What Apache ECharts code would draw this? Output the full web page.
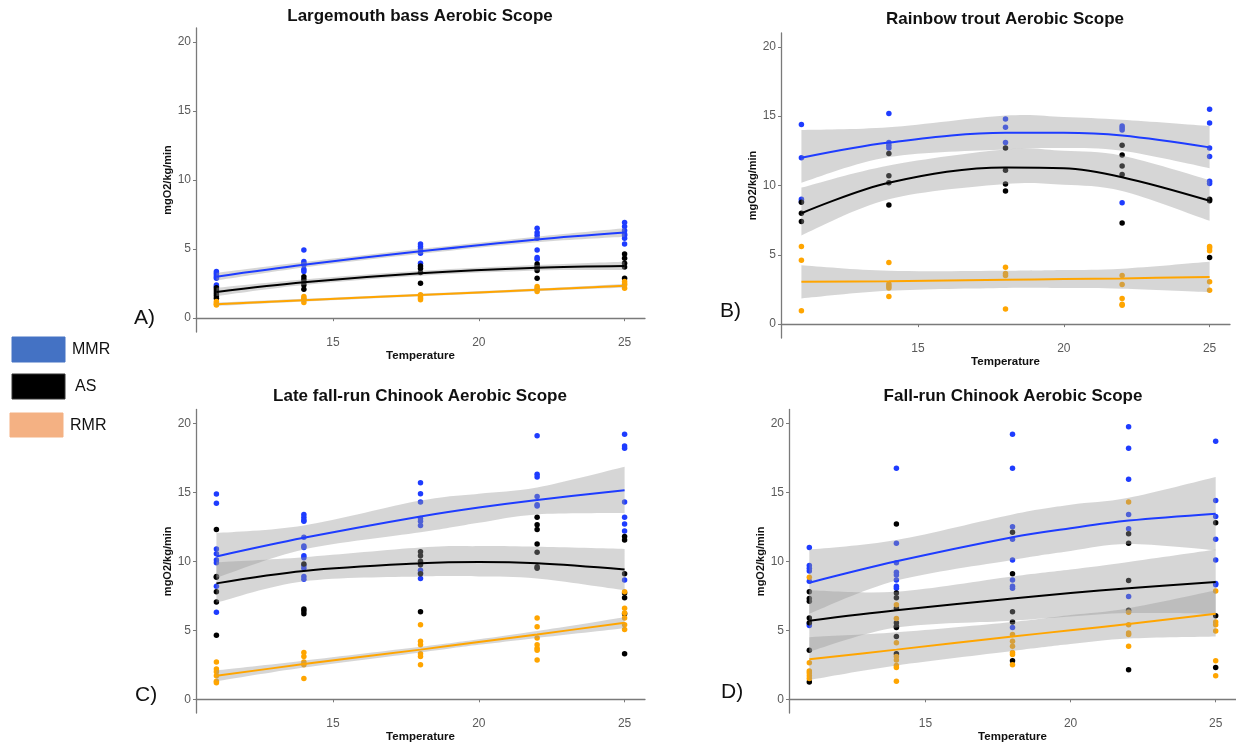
<!DOCTYPE html>
<html>
<head>
<meta charset="utf-8">
<script src="https://cdn.jsdelivr.net/npm/echarts@6/dist/echarts.min.js"></script>
<style>html,body{margin:0;padding:0;background:#fff}#c{width:1236px;height:744px}</style>
</head>
<body>
<div id="c"></div>
<script>
// ---------- DATA ----------
const temps = [11, 14, 18, 22, 25];
const xTicks = [15, 20, 25];
const yTicks = [0, 5, 10, 15, 20];
const groupNames = ['MMR', 'AS', 'RMR'];
const titles = ['Largemouth bass Aerobic Scope', 'Rainbow trout Aerobic Scope',
                'Late fall-run Chinook Aerobic Scope', 'Fall-run Chinook Aerobic Scope'];
const panelLabels = ['A)', 'B)', 'C)', 'D)'];

// Panel A – Largemouth bass (points per temperature)
const A_MMR = [[3.37,3.25,3.13,3.0,2.89,2.41,2.29],[4.94,4.1,3.95,3.86,3.54,3.37],[5.37,5.18,5.0,4.7,3.98],[6.5,6.2,6.0,5.78,4.94,4.4,4.27],[6.92,6.63,6.34,6.1,6.0,5.78,5.37]];
const A_AS  = [[2.2,2.05,1.9,1.75,1.6,1.45],[3.0,2.8,2.6,2.4,2.1],[3.78,3.6,3.3,2.53],[3.93,3.75,3.6,3.45,2.89],[4.65,4.34,3.98,3.7,2.89]];
const A_RMR = [[1.2,1.1,1.0,0.95],[1.57,1.45,1.33,1.13],[1.69,1.55,1.45,1.33],[2.29,2.15,2.05,1.93],[2.65,2.5,2.41,2.17]];
const A_fitX = [11, 14, 18, 22, 25];
const A_MMR_fit = [3.0, 3.86, 4.84, 5.7, 6.2];
const A_MMR_lo  = [2.72, 3.66, 4.66, 5.5, 5.9];
const A_MMR_hi  = [3.28, 4.06, 5.02, 5.9, 6.5];
const A_AS_fit  = [1.9, 2.6, 3.25, 3.65, 3.78];
const A_AS_lo   = [1.6, 2.4, 3.07, 3.45, 3.48];
const A_AS_hi   = [2.2, 2.8, 3.43, 3.85, 4.08];
const A_RMR_fit = [1.0, 1.3, 1.68, 2.05, 2.35];
const A_RMR_lo  = [0.88, 1.2, 1.59, 1.95, 2.22];
const A_RMR_hi  = [1.12, 1.4, 1.77, 2.15, 2.48];

// Panel B – Rainbow trout
const B_MMR = [[14.4,12.0,9.0,8.85],[15.2,13.1,12.9,12.7],[14.8,14.2,13.1],[14.3,14.15,14.0,8.75],[15.5,14.5,12.7,12.1,10.3,10.15]];
const B_AS  = [[8.8,8.0,7.4],[12.3,10.7,10.2,8.6],[12.7,11.1,10.1,9.6],[12.9,12.2,11.4,10.8,7.3],[9.0,8.9,4.8]];
const B_RMR = [[5.6,4.6,0.96],[4.45,2.9,2.75,2.6,2.0],[4.1,3.65,3.5,1.1],[3.5,2.86,1.85,1.44,1.37],[5.6,5.5,5.3,3.05,2.45]];
const B_fitX = [11, 14, 18, 20, 22, 25];
const B_MMR_fit = [12.0, 13.1, 13.8, 13.8, 13.6, 12.75];
const B_MMR_lo  = [10.2, 12.05, 12.6, 12.7, 12.5, 11.25];
const B_MMR_hi  = [14.0, 14.2, 15.05, 14.95, 14.75, 14.3];
const B_AS_fit  = [8.0, 10.2, 11.3, 11.25, 10.6, 8.9];
const B_AS_lo   = [6.4, 9.0, 10.1, 10.05, 9.6, 7.45];
const B_AS_hi   = [9.85, 11.45, 12.6, 12.5, 12.15, 10.4];
const B_RMR_fit = [3.05, 3.1, 3.2, 3.25, 3.3, 3.4];
const B_RMR_lo  = [1.85, 2.4, 2.6, 2.6, 2.55, 2.3];
const B_RMR_hi  = [4.25, 3.85, 3.85, 3.9, 4.0, 4.5];

// Panel C – Late fall-run Chinook
const C_MMR = [[14.87,14.2,10.9,10.55,10.1,9.9,8.2,6.3],[13.4,13.2,13.0,12.9,11.75,11.1,11.0,10.4,10.25,9.7,9.5,8.9,8.7],[15.7,14.9,14.3,13.1,12.9,12.6,9.35,9.15,8.75],[19.1,16.3,16.1,14.7,14.1,14.0],[19.2,18.35,18.2,14.3,13.2,12.7,12.2,8.65]];
const C_AS  = [[12.3,8.9,8.85,7.8,7.05,4.65],[9.8,6.55,6.4,6.2],[10.7,10.4,10.0,9.75,9.1,6.35],[13.2,12.65,12.3,11.25,10.65,9.6,9.5],[11.8,11.55,9.1,7.7,7.35,6.2,3.3]];
const C_RMR = [[2.7,2.2,2.0,1.7,1.3,1.2],[3.4,3.1,2.7,2.5,1.5],[5.4,4.2,3.95,3.3,3.1,2.5],[5.9,5.25,4.45,3.95,3.7,3.55,2.85],[7.8,6.6,6.25,5.9,5.4,5.05]];
const C_fitX = [11, 14, 18, 20, 22, 25];
const C_MMR_fit = [10.35, 11.7, 13.25, 13.9, 14.45, 15.15];
const C_MMR_lo  = [8.8, 10.85, 12.1, 12.8, 13.4, 13.5];
const C_MMR_hi  = [12.05, 12.6, 14.4, 14.9, 15.35, 16.85];
const C_AS_fit  = [8.4, 9.3, 9.85, 9.95, 9.85, 9.4];
const C_AS_lo   = [7.0, 8.55, 8.9, 8.9, 8.75, 7.9];
const C_AS_hi   = [9.93, 10.3, 11.0, 11.1, 11.05, 10.9];
const C_RMR_fit = [1.7, 2.55, 3.6, 4.15, 4.7, 5.55];
const C_RMR_lo  = [1.3, 2.3, 3.4, 3.95, 4.45, 5.15];
const C_RMR_hi  = [2.1, 2.8, 3.8, 4.35, 4.95, 5.95];

// Panel D – Fall-run Chinook
const D_MMR = [[11.0,9.7,9.5,9.3,8.55,5.5,5.35],[16.75,11.3,9.9,9.2,9.0,8.65,8.2,8.05],[19.2,16.75,12.5,11.6,10.1,8.65,8.2,8.05,5.2],[19.75,18.2,15.95,13.4,12.35,7.45],[18.7,14.4,13.25,11.6,10.1,8.4,8.3]];
const D_AS  = [[7.8,7.3,7.1,5.9,5.55,3.55,1.25],[12.7,7.7,7.35,6.6,5.55,5.3,5.2,4.55,3.3],[12.1,9.1,6.35,5.6,2.8],[12.0,11.3,8.6,6.45,2.15],[12.8,6.05,2.3]];
const D_RMR = [[8.85,2.65,2.05,1.9,1.7,1.5],[6.85,5.85,4.1,3.1,2.85,2.45,2.3,1.3],[4.7,4.2,3.85,3.4,3.25,2.5],[14.3,6.3,5.4,4.8,4.7,3.85],[7.85,5.6,5.4,4.95,2.8,1.7]];
const D_fitX = [11, 14, 18, 20, 22, 25];
const D_MMR_fit = [8.45, 10.0, 11.75, 12.4, 12.95, 13.45];
const D_MMR_lo  = [6.2, 8.6, 10.1, 10.75, 11.25, 10.8];
const D_MMR_hi  = [10.85, 11.55, 13.4, 14.1, 14.6, 16.1];
const D_AS_fit  = [5.7, 6.45, 7.3, 7.7, 8.05, 8.5];
const D_AS_lo   = [3.45, 5.2, 5.7, 6.0, 6.25, 6.2];
const D_AS_hi   = [7.9, 7.8, 8.9, 9.4, 9.95, 10.85];
const D_RMR_fit = [2.9, 3.6, 4.55, 5.0, 5.45, 6.2];
const D_RMR_lo  = [1.4, 2.45, 3.5, 4.0, 4.4, 4.55];
const D_RMR_hi  = [4.5, 4.85, 5.6, 6.1, 6.6, 7.9];

// ---------- STYLE ----------
const FONT = 'Liberation Sans, Arial, sans-serif';
const colors = ['#1e3cff', '#000000', '#ffa500'];
const legendColors = ['#4472C4', '#000000', '#F4B183'];
const bandFill = 'rgba(153,153,153,0.4)';
const axisGrey = '#7a7a7a';

const grids = [
  {left: 196, top: 28, width: 449, height: 304},
  {left: 781, top: 33, width: 449, height: 305},
  {left: 196, top: 409.5, width: 449, height: 304},
  {left: 789, top: 409.5, width: 449, height: 304}
];

const panels = [
  {pts: [A_MMR, A_AS, A_RMR], fitX: A_fitX, fit: [A_MMR_fit, A_AS_fit, A_RMR_fit], lo: [A_MMR_lo, A_AS_lo, A_RMR_lo], hi: [A_MMR_hi, A_AS_hi, A_RMR_hi]},
  {pts: [B_MMR, B_AS, B_RMR], fitX: B_fitX, fit: [B_MMR_fit, B_AS_fit, B_RMR_fit], lo: [B_MMR_lo, B_AS_lo, B_RMR_lo], hi: [B_MMR_hi, B_AS_hi, B_RMR_hi]},
  {pts: [C_MMR, C_AS, C_RMR], fitX: C_fitX, fit: [C_MMR_fit, C_AS_fit, C_RMR_fit], lo: [C_MMR_lo, C_AS_lo, C_RMR_lo], hi: [C_MMR_hi, C_AS_hi, C_RMR_hi]},
  {pts: [D_MMR, D_AS, D_RMR], fitX: D_fitX, fit: [D_MMR_fit, D_AS_fit, D_RMR_fit], lo: [D_MMR_lo, D_AS_lo, D_RMR_lo], hi: [D_MMR_hi, D_AS_hi, D_RMR_hi]}
];

function toPairs(groups) {
  const out = [];
  groups.forEach((ys, i) => ys.forEach(y => out.push([temps[i], y])));
  return out;
}

// Catmull-Rom spline through pixel points -> SVG path commands
function splinePath(p, start) {
  let d = start ? 'M' + p[0][0] + ' ' + p[0][1] : 'L' + p[0][0] + ' ' + p[0][1];
  for (let i = 0; i < p.length - 1; i++) {
    const p0 = p[Math.max(i - 1, 0)], p1 = p[i], p2 = p[i + 1], p3 = p[Math.min(i + 2, p.length - 1)];
    const c1 = [p1[0] + (p2[0] - p0[0]) / 6, p1[1] + (p2[1] - p0[1]) / 6];
    const c2 = [p2[0] - (p3[0] - p1[0]) / 6, p2[1] - (p3[1] - p1[1]) / 6];
    d += ' C' + c1[0] + ' ' + c1[1] + ' ' + c2[0] + ' ' + c2[1] + ' ' + p2[0] + ' ' + p2[1];
  }
  return d;
}

const xAxes = [], yAxes = [], series = [];
panels.forEach((pn, gi) => {
  xAxes.push({
    type: 'value', gridIndex: gi, min: 10.3, max: 25.7,
    axisLine: {show: true, lineStyle: {color: axisGrey, width: 1.3}},
    axisTick: {show: true, customValues: xTicks, length: 3, lineStyle: {color: axisGrey, width: 1}},
    axisLabel: {customValues: xTicks, color: '#5a5a5a', fontSize: 12, margin: 5, fontFamily: FONT},
    splitLine: {show: false},
    name: 'Temperature', nameLocation: 'middle', nameGap: 17,
    nameTextStyle: {fontWeight: 'bold', fontSize: 11.5, color: '#111', fontFamily: FONT}
  });
  yAxes.push({
    type: 'value', gridIndex: gi, min: -1, max: 21,
    axisLine: {show: true, lineStyle: {color: axisGrey, width: 1.3}},
    axisTick: {show: true, customValues: yTicks, length: 3, lineStyle: {color: axisGrey, width: 1}},
    axisLabel: {customValues: yTicks, color: '#5a5a5a', fontSize: 12, margin: 5, fontFamily: FONT},
    splitLine: {show: false},
    name: 'mgO2/kg/min', nameLocation: 'middle', nameGap: 19, nameRotate: 90,
    nameTextStyle: {fontWeight: 'bold', fontSize: 11, color: '#111', fontFamily: FONT}
  });
  // points
  pn.pts.forEach((g, k) => {
    series.push({
      type: 'scatter', name: groupNames[k], xAxisIndex: gi, yAxisIndex: gi,
      data: toPairs(g), symbolSize: 5.5, z: 2, silent: true,
      itemStyle: {color: colors[k], opacity: 1}
    });
  });
  // confidence bands
  pn.lo.forEach((lo, k) => {
    const hi = pn.hi[k], xs = pn.fitX;
    series.push({
      type: 'custom', xAxisIndex: gi, yAxisIndex: gi, z: 3, silent: true,
      data: [[xs[0], lo[0]]],
      renderItem: function (params, api) {
        const up = xs.map((x, i) => api.coord([x, hi[i]]));
        const dn = xs.map((x, i) => api.coord([x, lo[i]])).reverse();
        const d = splinePath(up, true) + ' ' + splinePath(dn, false) + ' Z';
        return {type: 'path', shape: {pathData: d}, style: {fill: bandFill, stroke: null}};
      }
    });
  });
  // fitted lines
  pn.fit.forEach((f, k) => {
    series.push({
      type: 'line', xAxisIndex: gi, yAxisIndex: gi, z: 4, silent: true,
      data: pn.fitX.map((x, i) => [x, f[i]]),
      smooth: 0.35, showSymbol: false, symbol: 'none',
      lineStyle: {color: colors[k], width: 2}
    });
  });
});

// titles, panel labels, legend
const titlePos = [[420, 16], [1005, 19], [420, 396], [1013, 396]];
const labelPos = [[134, 318], [720, 311], [135, 695], [721, 692]];
const graphics = [];
titles.forEach((t, i) => graphics.push({
  type: 'text', x: titlePos[i][0], y: titlePos[i][1],
  style: {text: t, font: 'bold 17px ' + FONT, fill: '#111', textAlign: 'center', textVerticalAlign: 'middle'}
}));
panelLabels.forEach((t, i) => graphics.push({
  type: 'text', x: labelPos[i][0], y: labelPos[i][1],
  style: {text: t, font: '21px ' + FONT, fill: '#111', textAlign: 'left', textVerticalAlign: 'middle'}
}));
const legRects = [[12, 337, 53, 25], [12, 374, 53, 25], [10, 413, 53, 24]];
const legText = [[72, 350], [75, 387], [70, 426]];
groupNames.forEach((n, i) => {
  graphics.push({type: 'rect', shape: {x: legRects[i][0], y: legRects[i][1], width: legRects[i][2], height: legRects[i][3]},
    style: {fill: legendColors[i], stroke: i === 1 ? '#333' : legendColors[i], lineWidth: 1}});
  graphics.push({type: 'text', x: legText[i][0], y: legText[i][1],
    style: {text: n, font: '16px ' + FONT, fill: '#111', textAlign: 'left', textVerticalAlign: 'middle'}});
});

const chart = echarts.init(document.getElementById('c'), null, {renderer: 'canvas'});
chart.setOption({
  animation: false,
  backgroundColor: '#ffffff',
  grid: grids,
  xAxis: xAxes,
  yAxis: yAxes,
  series: series,
  graphic: graphics
});
</script>
</body>
</html>
